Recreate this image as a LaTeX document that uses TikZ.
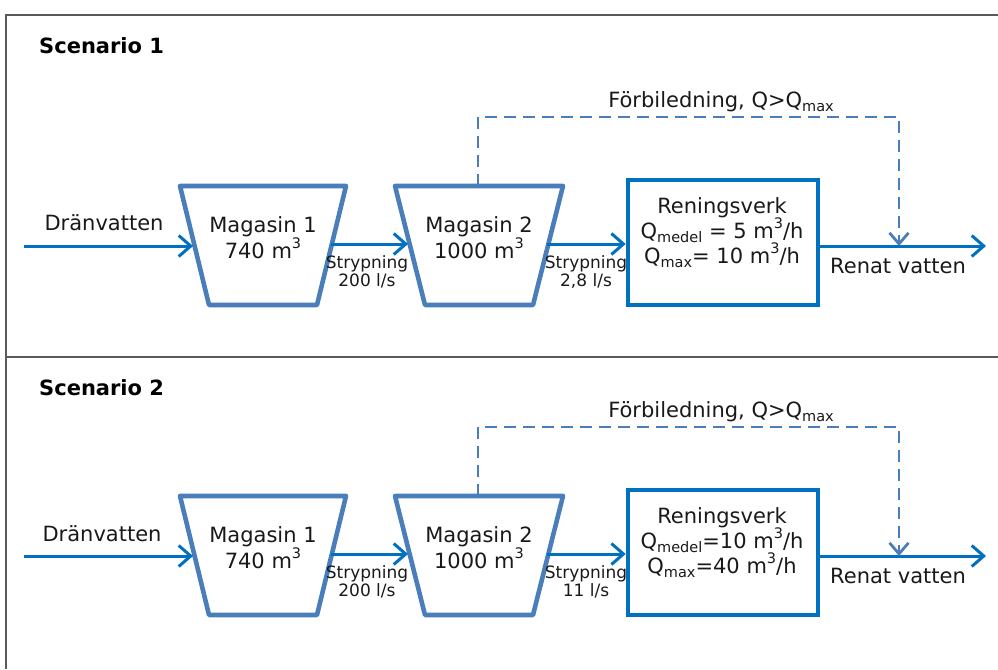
\documentclass[tikz,border=0pt]{standalone}
\usepackage{fontspec}
\setmainfont{DejaVu Sans}
\usetikzlibrary{arrows.meta}
\definecolor{flowblue}{RGB}{0,112,192}
\definecolor{tankblue}{RGB}{74,126,187}
\definecolor{framegray}{RGB}{90,90,90}
\definecolor{txt}{RGB}{25,25,25}
\newcommand\mysub[1]{\raisebox{-0.2em}{\fontsize{14.5}{15}\selectfont #1}}
\newcommand\mysup[1]{\raisebox{0.45em}{\fontsize{14.5}{15}\selectfont #1}}
\tikzset{
  frame/.style={draw=framegray,line width=1.5pt},
  tank/.style={draw=tankblue,line width=4.6pt,line join=round},
  plant/.style={draw=flowblue,line width=4.6pt,minimum width=190pt,minimum height=125pt,inner sep=0pt},
  flow/.style={draw=flowblue,line width=3pt,-{Straight Barb[length=12pt,width=21pt,line width=3pt]}},
  bypass/.style={draw=tankblue,line width=2.8pt,dash pattern=on 12pt off 7pt,-{Straight Barb[length=11pt,width=19pt,line width=2.8pt]}},
  lbl/.style={font=\fontsize{21}{25}\selectfont,text=txt,inner sep=0pt,anchor=base},
  small/.style={font=\fontsize{17}{19}\selectfont,text=txt,inner sep=0pt,anchor=base},
  title/.style={font=\fontsize{21}{25}\selectfont\bfseries,text=black,inner sep=0pt,anchor=base west},
}
\begin{document}
\begin{tikzpicture}[x=1pt,y=-1pt]
\useasboundingbox (0,0) rectangle (998,669);
% frame
\draw[frame] (998,15) -- (6,15) -- (6,669);
\draw[frame] (6,357) -- (998,357);

% ---------------- Scenario 1 ----------------
\node[title] (t1) at (39,53) {Scenario 1};
\draw[tank] (180,186) -- (346,186) -- (317,305) -- (209,305) -- cycle;
\draw[tank] (395,186) -- (563,186) -- (533,305) -- (425,305) -- cycle;
\node[plant] (rv1) at (723,242.5) {};
\coordinate (in1) at (24,246);
\coordinate (m1l1) at (193,246);
\coordinate (m1r1) at (331,244);
\coordinate (m2l1) at (408,244);
\coordinate (m2r1) at (547,244);
\coordinate (rvl1) at (rv1.west |- 0,244);
\coordinate (rvr1) at (rv1.east |- 0,246);
\coordinate (out1) at (986,246);
\coordinate (bp1) at (478,186);
\coordinate (bpj1) at (899,246);
\draw[flow] (in1) -- (m1l1);
\draw[flow] (m1r1) -- (m2l1);
\draw[flow] (m2r1) -- (rvl1);
\draw[flow] (rvr1) -- (out1);
\draw[bypass] (bp1) -- (478,117) -- (899,117) -- (bpj1);
\node[lbl] (d1) at (104,230) {Dränvatten};
\node[lbl] (ma1) at (263,232) {Magasin 1};
\node[lbl] (mb1) at (263,258) {740 m\mysup{3}};
\node[lbl] (mc1) at (479,232) {Magasin 2};
\node[lbl] (md1) at (479,258) {1000 m\mysup{3}};
\node[small] (s1a) at (367,268) {Strypning};
\node[small] (s1b) at (367,286) {200 l/s};
\node[small] (s2a) at (586,268) {Strypning};
\node[small] (s2b) at (586,286) {2,8 l/s};
\node[lbl] (f1) at (721,107) {Förbiledning, Q>Q\mysub{max}};
\node[lbl] (r1) at (722,213) {Reningsverk};
\node[lbl] (q1a) at (722,238) {Q\mysub{medel} = 5 m\mysup{3}/h};
\node[lbl] (q1b) at (722,263) {Q\mysub{max}= 10 m\mysup{3}/h};
\node[lbl] (rn1) at (898,273) {Renat vatten};

% ---------------- Scenario 2 ----------------
\node[title] (t2) at (39,395) {Scenario 2};
\draw[tank] (180,496) -- (346,496) -- (317,615) -- (209,615) -- cycle;
\draw[tank] (395,496) -- (563,496) -- (533,615) -- (425,615) -- cycle;
\node[plant] (rv2) at (723,552.5) {};
\coordinate (in2) at (24,556);
\coordinate (m1l2) at (193,556);
\coordinate (m1r2) at (331,554);
\coordinate (m2l2) at (408,554);
\coordinate (m2r2) at (547,554);
\coordinate (rvl2) at (rv2.west |- 0,554);
\coordinate (rvr2) at (rv2.east |- 0,556);
\coordinate (out2) at (986,556);
\coordinate (bp2) at (478,496);
\coordinate (bpj2) at (899,556);
\draw[flow] (in2) -- (m1l2);
\draw[flow] (m1r2) -- (m2l2);
\draw[flow] (m2r2) -- (rvl2);
\draw[flow] (rvr2) -- (out2);
\draw[bypass] (bp2) -- (478,427) -- (899,427) -- (bpj2);
\node[lbl] (d2) at (102,541) {Dränvatten};
\node[lbl] (ma2) at (263,542) {Magasin 1};
\node[lbl] (mb2) at (263,568) {740 m\mysup{3}};
\node[lbl] (mc2) at (479,542) {Magasin 2};
\node[lbl] (md2) at (479,568) {1000 m\mysup{3}};
\node[small] (s3a) at (367,578) {Strypning};
\node[small] (s3b) at (367,596) {200 l/s};
\node[small] (s4a) at (586,578) {Strypning};
\node[small] (s4b) at (586,596) {11 l/s};
\node[lbl] (f2) at (721,417) {Förbiledning, Q>Q\mysub{max}};
\node[lbl] (r2) at (722,523) {Reningsverk};
\node[lbl] (q2a) at (722,548) {Q\mysub{medel}=10 m\mysup{3}/h};
\node[lbl] (q2b) at (722,573) {Q\mysub{max}=40 m\mysup{3}/h};
\node[lbl] (rn2) at (898,583) {Renat vatten};
\end{tikzpicture}
\end{document}
